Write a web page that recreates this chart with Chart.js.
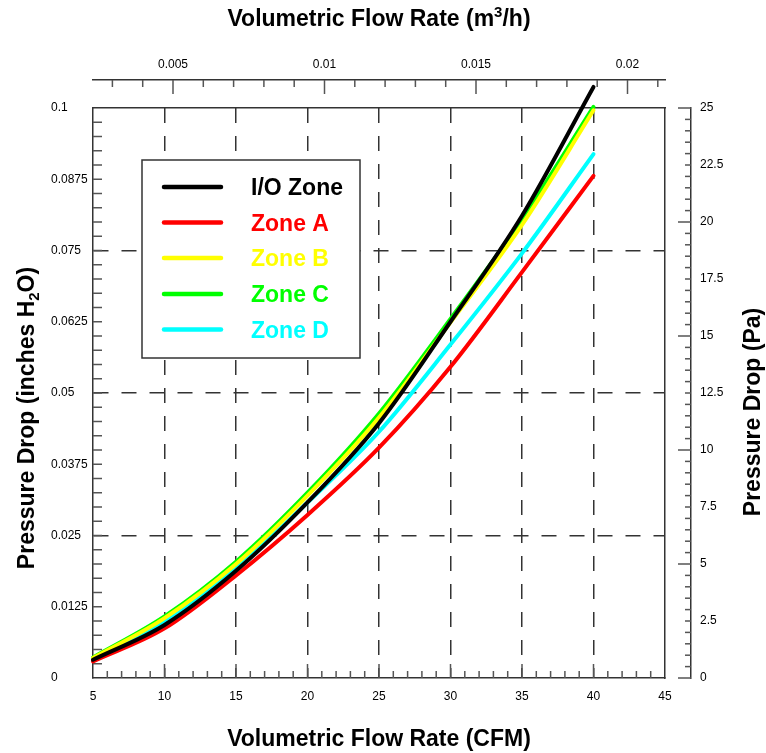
<!DOCTYPE html>
<html lang="en">
<head>
<meta charset="UTF-8">
<title>Pressure Drop vs Volumetric Flow Rate</title>
<script src="https://cdn.jsdelivr.net/npm/chart.js"></script>
<style>
    html, body { margin: 0; padding: 0; background: #fff; }
</style>
</head>
<body>
<canvas id="grafico" width="766" height="753"></canvas>
<script>
    // dados (pressão em polegadas de H2O)
    const flowCfm = [5, 10, 15, 20, 25, 30, 35, 40];
    const ioZone = [0.0032, 0.0093, 0.0188, 0.0308, 0.0447, 0.0625, 0.0811, 0.1037];
    const zoneA  = [0.0029, 0.0087, 0.0180, 0.0286, 0.0404, 0.0546, 0.0712, 0.0881];
    const zoneB  = [0.0035, 0.0105, 0.0200, 0.0320, 0.0457, 0.0624, 0.0795, 0.0996];
    const zoneC  = [0.0036, 0.0108, 0.0204, 0.0325, 0.0464, 0.0630, 0.0805, 0.1002];
    const zoneD  = [0.0033, 0.0098, 0.0192, 0.0308, 0.0432, 0.0585, 0.0745, 0.0919];

    const seriesNames = ['I/O Zone', 'Zone A', 'Zone B', 'Zone C', 'Zone D'];
    const seriesColors = ['#000000', '#ff0000', '#ffff00', '#00ff00', '#00ffff'];

    // marcas dos eixos
    const cfmTicks = [5, 10, 15, 20, 25, 30, 35, 40, 45];
    const cfmGridLines = [10, 15, 20, 25, 30, 35, 40];
    const inchTicks = [0, 0.0125, 0.025, 0.0375, 0.05, 0.0625, 0.075, 0.0875, 0.1];
    const inchTickLabels = ['0', '0.0125', '0.025', '0.0375', '0.05', '0.0625', '0.075', '0.0875', '0.1'];
    const inchGridLines = [0.025, 0.05, 0.075];
    const m3Ticks = [0.005, 0.01, 0.015, 0.02];
    const m3TickLabels = ['0.005', '0.01', '0.015', '0.02'];
    const paTicks = [0, 2.5, 5, 7.5, 10, 12.5, 15, 17.5, 20, 22.5, 25];
    const paTickLabels = ['0', '2.5', '5', '7.5', '10', '12.5', '15', '17.5', '20', '22.5', '25'];

    const CFM_TO_M3 = 0.000471947;

    const fonteTick = { family: "'Liberation Sans', Arial, sans-serif", size: 12 };
    const fonteTitulo = "bold 23px 'Liberation Sans', Arial, sans-serif";
    const fonteIndice = "bold 15px 'Liberation Sans', Arial, sans-serif";
    const corEixo = '#333';

    // marcas menores desenhadas para dentro, como no original
    const marcasEixo = {
        id: 'marcasEixo',
        beforeDatasetsDraw(chart) {
            const ctx = chart.ctx;
            const { x, y, x2, y2 } = chart.scales;
            ctx.save();
            ctx.strokeStyle = '#555';
            ctx.lineWidth = 1.5;
            const linha = (a, b, c, d) => { ctx.beginPath(); ctx.moveTo(a, b); ctx.lineTo(c, d); ctx.stroke(); };
            for (let i = 6; i < 45; i++) {
                const px = x.getPixelForValue(i);
                linha(px, x.top, px, x.top - (i % 5 === 0 ? 14 : 7));
            }
            for (let i = 1; i < 40; i++) {
                const py = y.getPixelForValue(i * 0.0025);
                linha(y.right, py, y.right + 9, py);
            }
            for (let i = 3; i <= 21; i++) {
                const px = x2.getPixelForValue(i * 0.001);
                linha(px, x2.bottom, px, x2.bottom + (i % 5 === 0 ? 14 : 7));
            }
            for (let i = 0; i <= 50; i++) {
                const py = y2.getPixelForValue(i * 0.5);
                linha(y2.left, py, y2.left - (i % 10 === 0 ? 13 : 6), py);
            }
            ctx.restore();
        }
    };

    function escreveTitulo(ctx, partes, cx, cy, ang) {
        ctx.save();
        ctx.translate(cx, cy);
        ctx.rotate(ang);
        ctx.fillStyle = '#000';
        ctx.textBaseline = 'alphabetic';
        ctx.textAlign = 'left';
        let total = 0;
        partes.forEach(p => {
            ctx.font = p.s ? fonteIndice : fonteTitulo;
            p.w = ctx.measureText(p.t).width;
            total += p.w;
        });
        let px = -total / 2;
        partes.forEach(p => {
            ctx.font = p.s ? fonteIndice : fonteTitulo;
            const dy = p.s === 'sub' ? 5 : (p.s === 'sup' ? -9 : 0);
            ctx.fillText(p.t, px, 8 + dy);
            px += p.w;
        });
        ctx.restore();
    }

    const titulosEixos = {
        id: 'titulosEixos',
        afterDraw(chart) {
            const ctx = chart.ctx;
            const a = chart.chartArea;
            const cx = (a.left + a.right) / 2;
            escreveTitulo(ctx, [{ t: 'Volumetric Flow Rate (m' }, { t: '3', s: 'sup' }, { t: '/h)' }], cx, 18, 0);
            escreveTitulo(ctx, [{ t: 'Volumetric Flow Rate (CFM)' }], cx, 738, 0);
            escreveTitulo(ctx, [{ t: 'Pressure Drop (inches H' }, { t: '2', s: 'sub' }, { t: 'O)' }], 26, 418, -Math.PI / 2);
            escreveTitulo(ctx, [{ t: 'Pressure Drop (Pa)' }], 752, 412, -Math.PI / 2);
        }
    };

    const legendaCaixa = {
        id: 'legendaCaixa',
        afterDatasetsDraw(chart) {
            const ctx = chart.ctx;
            ctx.save();
            ctx.fillStyle = '#fff';
            ctx.fillRect(142, 160, 218, 198);
            ctx.strokeStyle = '#333';
            ctx.lineWidth = 1.5;
            ctx.strokeRect(142, 160, 218, 198);
            const linhas = [187, 222.5, 258, 294, 329.5];
            chart.data.datasets.forEach((ds, i) => {
                const ly = linhas[i];
                ctx.strokeStyle = ds.borderColor;
                ctx.lineWidth = 4.5;
                ctx.lineCap = 'round';
                ctx.beginPath();
                ctx.moveTo(164, ly);
                ctx.lineTo(221, ly);
                ctx.stroke();
                ctx.fillStyle = ds.borderColor;
                ctx.font = "bold 23px 'Liberation Sans', Arial, sans-serif";
                ctx.textBaseline = 'alphabetic';
                ctx.fillText(ds.label, 251, ly + 8);
            });
            ctx.restore();
        }
    };

    const series = [ioZone, zoneA, zoneB, zoneC, zoneD];
    const datasets = series.map((vals, i) => ({
        label: seriesNames[i],
        data: flowCfm.map((q, k) => ({ x: q, y: vals[k] })),
        borderColor: seriesColors[i],
        backgroundColor: seriesColors[i],
        borderWidth: 4,
        borderCapStyle: 'round',
        pointRadius: 0,
        cubicInterpolationMode: 'monotone',
        clip: false,
        xAxisID: 'x',
        yAxisID: 'y'
    }));

    new Chart(document.getElementById('grafico'), {
        type: 'line',
        data: { datasets: datasets },
        options: {
            responsive: false,
            animation: false,
            events: [],
            layout: { padding: { left: 51, top: 0, right: 0, bottom: 0 } },
            plugins: {
                legend: { display: false },
                tooltip: { enabled: false }
            },
            scales: {
                x: {
                    type: 'linear',
                    position: 'bottom',
                    min: 5,
                    max: 45,
                    afterBuildTicks: s => { s.ticks = cfmTicks.map(v => ({ value: v })); },
                    afterFit: s => { s.height = 75; },
                    ticks: { font: fonteTick, color: '#000', padding: 11, maxRotation: 0, autoSkip: false, callback: v => String(v) },
                    grid: {
                        drawTicks: false,
                        lineWidth: 1.5,
                        color: c => (c.tick && cfmGridLines.includes(c.tick.value)) ? corEixo : 'transparent'
                    },
                    border: { display: true, color: corEixo, width: 1.5, dash: [15, 13] }
                },
                y: {
                    type: 'linear',
                    position: 'left',
                    min: 0,
                    max: 0.1,
                    afterBuildTicks: s => { s.ticks = inchTicks.map(v => ({ value: v })); },
                    afterFit: s => { s.width = 42; },
                    ticks: { font: fonteTick, color: '#000', padding: 0, crossAlign: 'far', autoSkip: false, callback: (v, i) => inchTickLabels[i] },
                    grid: {
                        drawTicks: false,
                        lineWidth: 1.5,
                        color: c => (c.tick && inchGridLines.includes(c.tick.value)) ? corEixo : 'transparent'
                    },
                    border: { display: true, color: corEixo, width: 1.5, dash: [15, 13] }
                },
                gapTop: {
                    type: 'linear',
                    axis: 'x',
                    position: 'top',
                    weight: 0,
                    min: 0,
                    max: 1,
                    afterFit: s => { s.height = 28; },
                    ticks: { display: false },
                    grid: { display: false, drawTicks: false },
                    border: { display: true, color: corEixo, width: 1.5 }
                },
                x2: {
                    type: 'linear',
                    axis: 'x',
                    position: 'top',
                    weight: 1,
                    min: 5 * CFM_TO_M3,
                    max: 45 * CFM_TO_M3,
                    afterBuildTicks: s => { s.ticks = m3Ticks.map(v => ({ value: v })); },
                    afterFit: s => { s.height = 80; },
                    ticks: { font: fonteTick, color: '#000', padding: 8, maxRotation: 0, autoSkip: false, callback: (v, i) => m3TickLabels[i] },
                    grid: { display: false, drawTicks: false },
                    border: { display: true, color: corEixo, width: 1.5 }
                },
                gapRight: {
                    type: 'linear',
                    axis: 'y',
                    position: 'right',
                    weight: 0,
                    min: 0,
                    max: 1,
                    afterFit: s => { s.width = 26; },
                    ticks: { display: false },
                    grid: { display: false, drawTicks: false },
                    border: { display: true, color: corEixo, width: 1.5 }
                },
                y2: {
                    type: 'linear',
                    axis: 'y',
                    position: 'right',
                    weight: 1,
                    min: 0,
                    max: 25,
                    afterBuildTicks: s => { s.ticks = paTicks.map(v => ({ value: v })); },
                    afterFit: s => { s.width = 75; },
                    ticks: { font: fonteTick, color: '#000', padding: 9, autoSkip: false, callback: (v, i) => paTickLabels[i] },
                    grid: { display: false, drawTicks: false },
                    border: { display: true, color: corEixo, width: 1.5 }
                }
            }
        },
        plugins: [marcasEixo, legendaCaixa, titulosEixos]
    });
</script>
</body>
</html>
